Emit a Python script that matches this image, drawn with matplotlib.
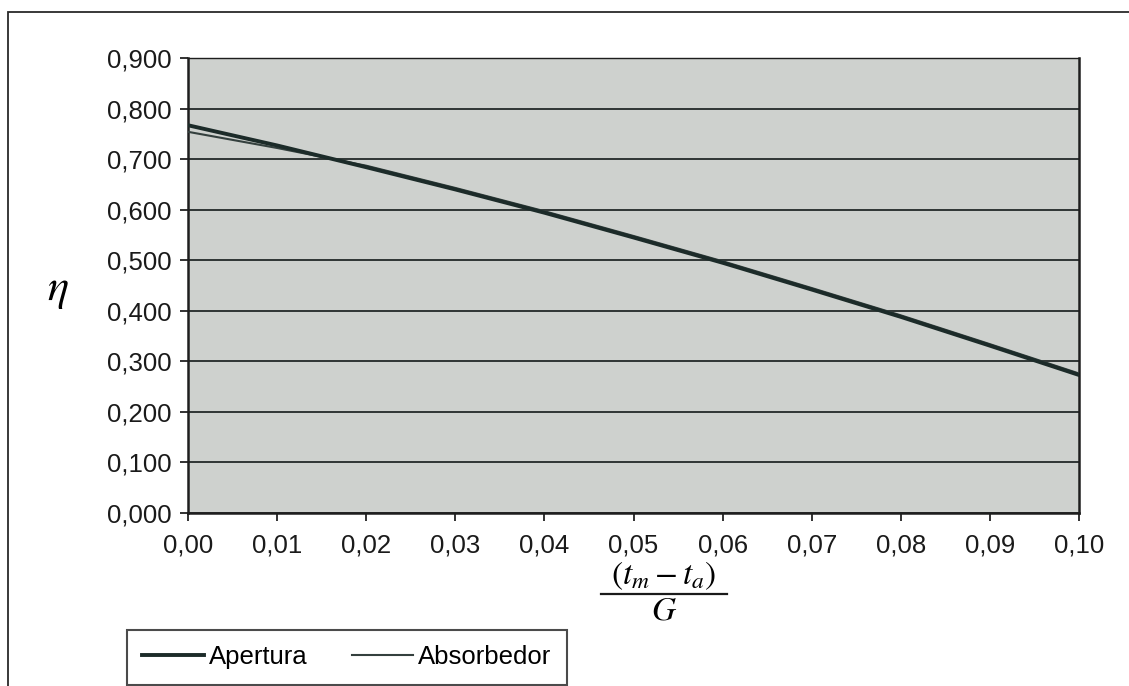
import matplotlib
matplotlib.use('Agg')
import matplotlib.pyplot as plt
from matplotlib.patches import Rectangle
from matplotlib.lines import Line2D
from matplotlib.ticker import FuncFormatter

# (tm - ta) / G
x_vals = [0.00, 0.01, 0.02, 0.03, 0.04, 0.05, 0.06, 0.07, 0.08, 0.09, 0.10]
# rendimiento referido a la apertura
apertura = [0.767, 0.727, 0.684, 0.640, 0.594, 0.545, 0.495, 0.442, 0.388, 0.331, 0.273]
# rendimiento referido al absorbedor
absorbedor = [0.754, 0.722, 0.687, 0.643, 0.597, 0.548, 0.498, 0.445, 0.391, 0.334, 0.276]

x_ticks = [0.00, 0.01, 0.02, 0.03, 0.04, 0.05, 0.06, 0.07, 0.08, 0.09, 0.10]
y_ticks = [0.0, 0.1, 0.2, 0.3, 0.4, 0.5, 0.6, 0.7, 0.8, 0.9]

plt.rcParams['font.family'] = ['Liberation Sans', 'DejaVu Sans']
plt.rcParams['mathtext.fontset'] = 'stix'

W, H = 1129, 686
fig = plt.figure(figsize=(W / 100, H / 100), dpi=100)
fig.patch.set_facecolor('white')

# marco exterior del gráfico
fig.patches.append(Rectangle((8 / W, -0.05), 1.2, 1 - 12 / H + 0.05,
                             transform=fig.transFigure, fill=False,
                             edgecolor='#2a2a2a', linewidth=1.3))

ax = fig.add_axes([188 / W, 1 - 513 / H, 891 / W, 455 / H])
ax.set_facecolor('#ced1ce')

ax.plot(x_vals, absorbedor, color='#34403e', linewidth=1.5, label='Absorbedor', zorder=3)
ax.plot(x_vals, apertura, color='#1c2b29', linewidth=2.8, label='Apertura', zorder=4)

ax.set_xlim(0, 0.10)
ax.set_ylim(0, 0.9)
ax.set_xticks(x_ticks)
ax.set_yticks(y_ticks)
ax.xaxis.set_major_formatter(FuncFormatter(lambda v, p: f"{v:.2f}".replace('.', ',')))
ax.yaxis.set_major_formatter(FuncFormatter(lambda v, p: f"{v:.3f}".replace('.', ',')))
ax.tick_params(axis='both', direction='out', length=6, width=1.3, colors='#222222',
               labelsize=18.5, labelcolor='#1a1a1a')
ax.tick_params(axis='x', pad=9)
ax.tick_params(axis='y', pad=6)

ax.yaxis.grid(True, color='#2f3534', linewidth=1.4)
ax.set_axisbelow(True)
for side in ['left', 'right', 'bottom', 'top']:
    ax.spines[side].set_color('#1e1e1e')
    ax.spines[side].set_linewidth(1.8)
ax.spines['top'].set_linewidth(1.0)

# etiquetas de los ejes
fig.text(58 / W, 1 - 290 / H, r'$\eta$', fontsize=32, ha='center', va='center')
fig.text(664 / W, 1 - 576 / H, r'$(t_m - t_a)$', fontsize=24, ha='center', va='center')
fig.lines.append(Line2D([601 / W, 727 / W], [1 - 594 / H, 1 - 594 / H],
                        transform=fig.transFigure, color='#1a1a1a', linewidth=1.6))
fig.text(664 / W, 1 - 611 / H, r'$G$', fontsize=24, ha='center', va='center')

handles, labels = ax.get_legend_handles_labels()
leg = fig.legend([handles[1], handles[0]], [labels[1], labels[0]],
                 loc='upper left', bbox_to_anchor=(127 / W, 1 - 630 / H),
                 ncol=2, fontsize=18.5, frameon=True, fancybox=False,
                 edgecolor='#1e1e1e', borderaxespad=0, borderpad=0.6,
                 handlelength=2.4, handletextpad=0.2, columnspacing=1.7)
leg.get_frame().set_linewidth(1.5)

fig.savefig('out.png', dpi=100)
